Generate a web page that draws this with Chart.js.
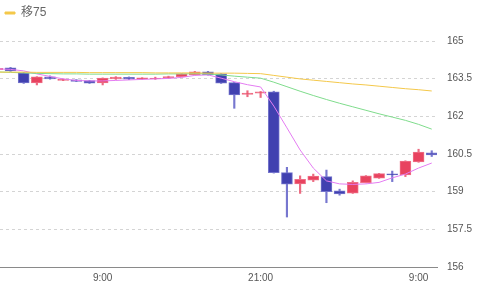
<!DOCTYPE html>
<html>
<head>
<meta charset="utf-8">
<script src="https://cdn.jsdelivr.net/npm/chart.js@4/dist/chart.umd.min.js"></script>
<style>
    html, body { margin: 0; padding: 0; background: #fff; }
    #wrap { width: 480px; height: 287px; }
</style>
</head>
<body>
<div id="wrap"><canvas id="c"></canvas></div>
<script>
// hour offsets from the first 9:00
const hours = [-8, -7, -6, -5, -4, -3, -2, -1, 0, 1, 2, 3, 4, 5, 6, 7, 8, 9, 10, 11, 12,
    13, 14, 15, 16, 17, 18, 19, 20, 21, 22, 23, 24, 25];

const opens = [163.86, 163.93, 163.73, 163.33, 163.57, 163.43, 163.45, 163.42, 163.33, 163.49, 163.55,
    163.49, 163.50, 163.53, 163.58, 163.66, 163.77, 163.69, 163.34, 162.87, 162.92, 162.98,
    159.76, 159.31, 159.46, 159.60, 159.03, 158.94, 159.36, 159.54, 159.71, 159.67, 160.18, 160.55];
const highs = [163.93, 163.95, 163.75, 163.58, 163.61, 163.49, 163.46, 163.43, 163.53, 163.58, 163.57,
    163.54, 163.56, 163.60, 163.70, 163.79, 163.79, 163.70, 163.35, 163.02, 162.99, 163.00,
    159.97, 159.63, 159.70, 159.86, 159.10, 159.43, 159.64, 159.73, 159.82, 160.23, 160.69, 160.63];
const lows = [163.84, 163.79, 163.31, 163.25, 163.48, 163.42, 163.38, 163.31, 163.25, 163.47, 163.46,
    163.47, 163.47, 163.52, 163.57, 163.65, 163.64, 163.31, 162.32, 162.78, 162.75, 159.74,
    157.99, 158.93, 159.40, 158.56, 158.86, 158.93, 159.35, 159.53, 159.40, 159.60, 160.17, 160.40];
const closes = [163.91, 163.81, 163.33, 163.57, 163.49, 163.48, 163.39, 163.32, 163.52, 163.56, 163.48,
    163.53, 163.52, 163.58, 163.69, 163.77, 163.66, 163.32, 162.85, 162.93, 162.98, 159.76,
    159.30, 159.49, 159.62, 159.00, 158.91, 159.37, 159.63, 159.72, 159.67, 160.22, 160.58, 160.46];

const ma75 = [163.76, 163.76, 163.76, 163.75, 163.75, 163.75, 163.75, 163.74, 163.74, 163.74, 163.74,
    163.74, 163.73, 163.73, 163.73, 163.73, 163.72, 163.72, 163.72, 163.71, 163.70, 163.63,
    163.56, 163.49, 163.44, 163.39, 163.34, 163.29, 163.25, 163.20, 163.15, 163.10, 163.06, 163.01];
const ma25 = [163.77, 163.75, 163.73, 163.71, 163.70, 163.69, 163.69, 163.68, 163.68, 163.68, 163.68,
    163.68, 163.68, 163.69, 163.69, 163.70, 163.69, 163.65, 163.60, 163.56, 163.52, 163.36,
    163.18, 163.00, 162.83, 162.67, 162.52, 162.38, 162.24, 162.10, 161.97, 161.84, 161.68, 161.49];
const ma5 = [163.89, 163.87, 163.81, 163.69, 163.59, 163.49, 163.43, 163.41, 163.41, 163.43, 163.45,
    163.47, 163.49, 163.51, 163.55, 163.63, 163.65, 163.52, 163.38, 163.26, 163.17, 162.41,
    161.54, 160.66, 159.94, 159.43, 159.31, 159.29, 159.31, 159.37, 159.55, 159.70, 159.94, 160.14];

const priceTicks = [156, 157.5, 159, 160.5, 162, 163.5, 165];
const timeTicks = [0, 12, 24];
const timeLabels = ['9:00', '21:00', '9:00'];

const UP = '#e8435f', UP_EDGE = '#ef7088', UP_WICK = '#ec6a80';
const DOWN = '#4141b0', DOWN_EDGE = '#7474cc', DOWN_WICK = '#7777cf';
const FONT = '"Liberation Sans", "Noto Sans CJK JP", sans-serif';

const isUp = opens.map( ( o, i ) => closes[ i ] >= o );

// push the plot area down under the legend row
const legendGap = {
    id: 'legendGap',
    beforeInit ( chart ) {
        const fit = chart.legend.fit;
        chart.legend.fit = function () {
            fit.bind( chart.legend )();
            this.height += 12;
        };
    }
};

new Chart( document.getElementById( 'c' ), {
    type: 'bar',
    data: {
        datasets: [ {
            type: 'line',
            label: '移75',
            data: hours.map( ( h, i ) => ( { x: h, y: ma75[ i ] } ) ),
            borderColor: '#f4c84a',
            backgroundColor: '#f4c84a',
            borderWidth: 1,
            pointRadius: 0
        }, {
            type: 'line',
            label: '移25',
            data: hours.map( ( h, i ) => ( { x: h, y: ma25[ i ] } ) ),
            borderColor: '#7fdc8c',
            borderWidth: 1,
            pointRadius: 0
        }, {
            type: 'line',
            label: '移5',
            data: hours.map( ( h, i ) => ( { x: h, y: ma5[ i ] } ) ),
            borderColor: '#e47cf2',
            borderWidth: 1,
            pointRadius: 0
        }, {
            label: 'body',
            data: hours.map( ( h, i ) => ( { x: h, y: [ opens[ i ], closes[ i ] ] } ) ),
            backgroundColor: isUp.map( u => u ? UP : DOWN ),
            borderColor: isUp.map( u => u ? UP_EDGE : DOWN_EDGE ),
            borderWidth: 1,
            borderSkipped: false,
            barThickness: 11,
            grouped: false
        }, {
            label: 'wick',
            data: hours.map( ( h, i ) => ( { x: h, y: [ lows[ i ], highs[ i ] ] } ) ),
            backgroundColor: isUp.map( u => u ? UP_WICK : DOWN_WICK ),
            borderWidth: 0,
            barThickness: 1.5,
            grouped: false
        } ]
    },
    options: {
        responsive: true,
        maintainAspectRatio: false,
        animation: false,
        layout: { padding: { top: 2, left: 0, right: 0, bottom: 0 } },
        plugins: {
            tooltip: { enabled: false },
            legend: {
                align: 'start',
                labels: {
                    boxWidth: 10,
                    boxHeight: 2,
                    padding: 5,
                    color: '#666',
                    font: { size: 12, family: FONT },
                    filter ( item ) {
                        return item.datasetIndex === 0;
                    }
                }
            }
        },
        scales: {
            x: {
                type: 'linear',
                min: -7.8,
                max: 25.4,
                offset: false,
                afterBuildTicks ( scale ) {
                    scale.ticks = timeTicks.map( v => ( { value: v } ) );
                },
                afterFit ( scale ) {
                    scale.height = 20;
                },
                grid: { display: false, drawTicks: false },
                border: { display: true, color: '#8a8a8a', width: 1 },
                ticks: {
                    padding: 5,
                    maxRotation: 0,
                    autoSkip: false,
                    color: '#555',
                    font: { size: 10, family: FONT },
                    callback ( value, index ) {
                        return timeLabels[ index ];
                    }
                }
            },
            y: {
                position: 'right',
                min: 156,
                max: 165,
                afterBuildTicks ( scale ) {
                    scale.ticks = priceTicks.map( v => ( { value: v } ) );
                },
                afterFit ( scale ) {
                    scale.width = 43;
                },
                grid: {
                    drawTicks: false,
                    color: '#d4d4d4',
                    lineWidth: 1
                },
                border: { display: false, dash: [ 3, 3 ] },
                ticks: {
                    padding: 10,
                    color: '#555',
                    font: { size: 10, family: FONT },
                    callback ( value ) {
                        return String( value );
                    }
                }
            }
        }
    },
    plugins: [ legendGap ]
} );
</script>
</body>
</html>
